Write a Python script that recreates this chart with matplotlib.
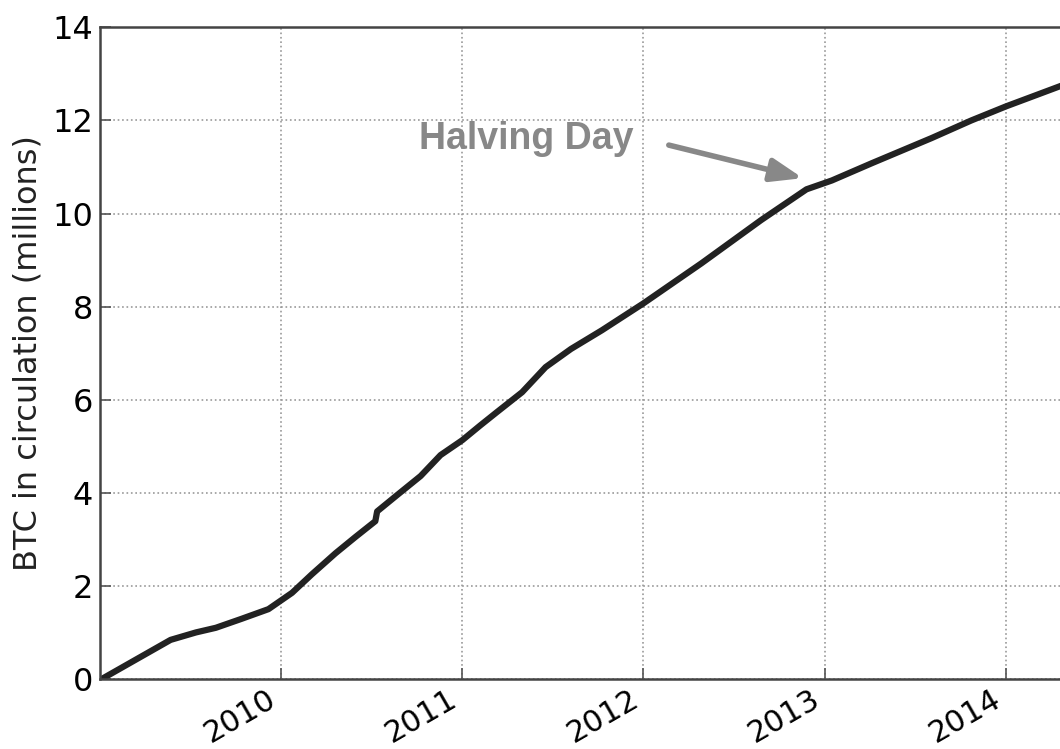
import numpy as np
import matplotlib
matplotlib.use('Agg')
import matplotlib.pyplot as plt

# BTC supply (decimal years, millions of BTC)
years = [2009.01, 2009.39, 2009.53, 2009.64, 2009.78, 2009.93, 2010.06, 2010.17,
         2010.30, 2010.41, 2010.52, 2010.53, 2010.64, 2010.77, 2010.88, 2011.00,
         2011.10, 2011.19, 2011.33, 2011.46, 2011.60, 2011.77, 2012.00, 2012.32,
         2012.65, 2012.90, 2013.04, 2013.26, 2013.59, 2013.81, 2014.00, 2014.33]
btc = [0.0, 0.84, 1.0, 1.1, 1.29, 1.5, 1.85, 2.25,
       2.7, 3.05, 3.39, 3.6, 3.95, 4.36, 4.81, 5.13,
       5.45, 5.73, 6.16, 6.70, 7.09, 7.49, 8.07, 8.93,
       9.86, 10.52, 10.71, 11.08, 11.62, 12.0, 12.3, 12.78]

xticks = [2010, 2011, 2012, 2013, 2014]
yticks = [0, 2, 4, 6, 8, 10, 12, 14]

fig = plt.figure(figsize=(10.6, 7.49), dpi=100)
ax = fig.add_axes([0.0943, 0.0935, 0.94, 0.870])

ax.plot(years, btc, color='#222222', linewidth=4.5, solid_joinstyle='round')

ax.set_xlim(2009.0, 2014.5)
ax.set_ylim(0, 14)
ax.set_xticks(xticks)
ax.set_xticklabels([str(y) for y in xticks], rotation=30, ha='right', fontsize=22)
ax.set_yticks(yticks)
ax.tick_params(axis='y', labelsize=23, pad=5)
ax.tick_params(direction='in', length=8, width=1.2, color='#555555')
ax.tick_params(axis='x', pad=4)
ax.grid(True, linestyle=':', color='#999999', linewidth=1.2)
for s in ax.spines.values():
    s.set_color('#444444')
    s.set_linewidth(1.8)

ax.set_ylabel('BTC in circulation (millions)', fontsize=23, color='#222222', labelpad=6)

# halving day callout
ax.text(2010.76, 11.6, 'Halving Day', fontsize=27, fontweight='bold', color='#888888',
        family='Liberation Sans', va='center', ha='left')
ax.annotate('', xy=(2012.88, 10.76), xytext=(2012.14, 11.47),
            arrowprops=dict(arrowstyle='-|>,head_length=0.95,head_width=0.35', color='#888888',
                            linewidth=4, shrinkA=0, shrinkB=0, mutation_scale=20))

plt.savefig('out.png', dpi=100)
plt.close()
